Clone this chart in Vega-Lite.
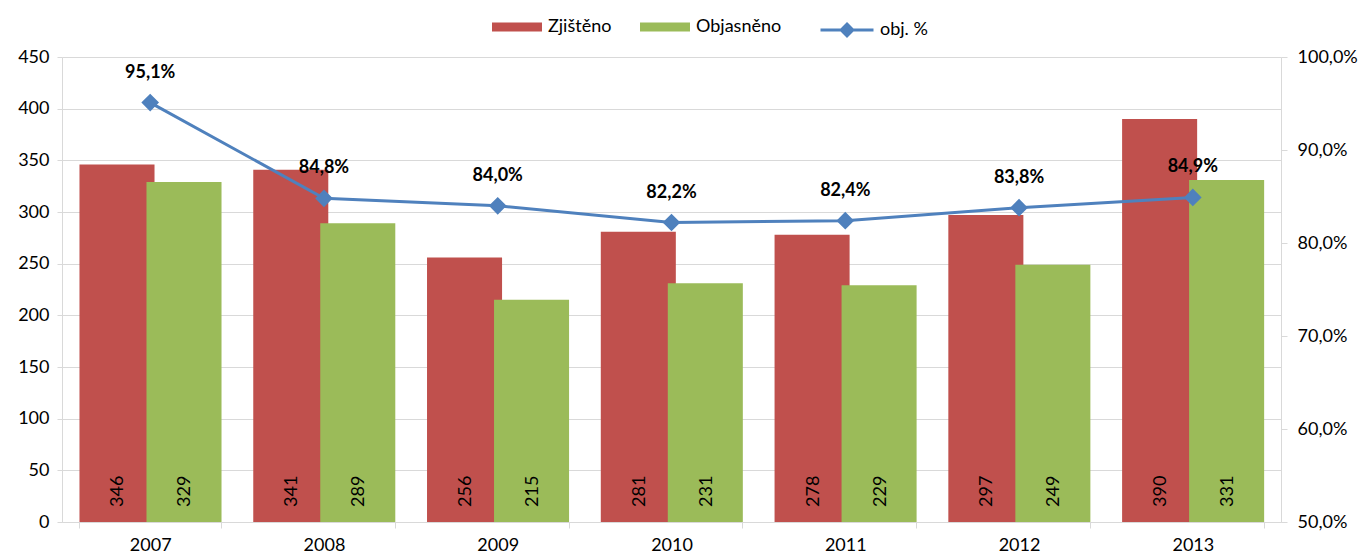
{
  "$schema": "https://vega.github.io/schema/vega-lite/v6.json",
  "width": 1219,
  "height": 465,
  "autosize": "none",
  "padding": {"left": 62, "top": 57, "right": 87, "bottom": 37},
  "background": "white",
  "config": {
    "font": "Lato",
    "view": {"stroke": null},
    "locale": {"number": {"decimal": ",", "thousands": " ", "grouping": [3], "currency": ["", " Kč"]}},
    "legend": {"padding": 0, "labelFont": "Lato", "labelFontSize": 18, "labelColor": "#000"},
    "axis": {"labelFont": "Lato", "labelFontSize": 18, "labelColor": "#000", "domainColor": "#d9d9d9", "tickColor": "#d9d9d9", "gridColor": "#d9d9d9"}
  },
  "datasets": {
    "bars": [
      {"year": "2007", "series": "Zjištěno", "value": 346},
      {"year": "2007", "series": "Objasněno", "value": 329},
      {"year": "2008", "series": "Zjištěno", "value": 341},
      {"year": "2008", "series": "Objasněno", "value": 289},
      {"year": "2009", "series": "Zjištěno", "value": 256},
      {"year": "2009", "series": "Objasněno", "value": 215},
      {"year": "2010", "series": "Zjištěno", "value": 281},
      {"year": "2010", "series": "Objasněno", "value": 231},
      {"year": "2011", "series": "Zjištěno", "value": 278},
      {"year": "2011", "series": "Objasněno", "value": 229},
      {"year": "2012", "series": "Zjištěno", "value": 297},
      {"year": "2012", "series": "Objasněno", "value": 249},
      {"year": "2013", "series": "Zjištěno", "value": 390},
      {"year": "2013", "series": "Objasněno", "value": 331}
    ],
    "pct": [
      {"year": "2007", "pct": 0.951},
      {"year": "2008", "pct": 0.848},
      {"year": "2009", "pct": 0.840},
      {"year": "2010", "pct": 0.822},
      {"year": "2011", "pct": 0.824},
      {"year": "2012", "pct": 0.838},
      {"year": "2013", "pct": 0.849}
    ]
  },
  "encoding": {
    "x": {
      "field": "year", "type": "nominal",
      "scale": {"paddingInner": 0.185, "paddingOuter": 0.1},
      "axis": {"title": null, "labelAngle": 0, "tickBand": "extent", "tickSize": 6, "labelPadding": 8, "domainColor": "#d9d9d9"}
    }
  },
  "layer": [
    {
      "data": {"name": "bars"},
      "layer": [
        {
          "mark": {"type": "bar", "width": {"band": 1.12}},
          "encoding": {
            "xOffset": {"field": "series", "type": "nominal", "sort": ["Zjištěno", "Objasněno"], "scale": {"paddingInner": 0, "paddingOuter": 0, "range": [8.6, 142.6]}},
            "y": {"field": "value", "type": "quantitative",
              "scale": {"domain": [0, 450], "nice": false},
              "axis": {"title": null, "values": [0, 50, 100, 150, 200, 250, 300, 350, 400, 450], "grid": true, "tickSize": 5, "labelPadding": 8}},
            "color": {"field": "series", "type": "nominal", "sort": ["Zjištěno", "Objasněno"],
              "scale": {"domain": ["Zjištěno", "Objasněno"], "range": ["#C0504D", "#9BBB59"]},
              "legend": {"title": null, "orient": "none", "direction": "horizontal", "legendX": 430, "legendY": -55,
                "symbolType": "M-1,-0.18H1V0.18H-1Z", "symbolSize": 2500, "symbolStrokeWidth": 0, "labelOffset": 6, "columnPadding": 28}}
          }
        },
        {
          "mark": {"type": "text", "angle": 270, "align": "left", "baseline": "middle", "dx": 15, "dy": -3, "fontSize": 18, "color": "#000"},
          "encoding": {
            "xOffset": {"field": "series", "type": "nominal", "sort": ["Zjištěno", "Objasněno"]},
            "y": {"datum": 0, "type": "quantitative"},
            "text": {"field": "value", "type": "quantitative"}
          }
        }
      ]
    },
    {
      "data": {"name": "pct"},
      "layer": [
        {
          "mark": {"type": "line", "strokeWidth": 3, "point": {"shape": "diamond", "size": 220, "filled": true, "color": "#4F81BD"}},
          "encoding": {
            "y": {"field": "pct", "type": "quantitative",
              "scale": {"domain": [0.5, 1.0], "nice": false, "zero": false},
              "axis": {"title": null, "orient": "right", "format": ".1%", "values": [0.5, 0.6, 0.7, 0.8, 0.9, 1.0], "grid": false, "tickSize": 6, "labelPadding": 10}},
            "stroke": {"datum": "obj. %", "type": "nominal",
              "scale": {"range": ["#4F81BD"]},
              "legend": {"title": null, "orient": "none", "legendX": 757, "legendY": -55,
                "symbolType": "M-1,0H1M0,-0.22L0.22,0L0,0.22L-0.22,0Z", "symbolSize": 2809, "symbolStrokeWidth": 3, "symbolFillColor": "#4F81BD", "labelOffset": 5}}
          }
        },
        {
          "mark": {"type": "text", "dy": -30, "fontSize": 18, "fontWeight": "bold", "color": "#000"},
          "encoding": {
            "y": {"field": "pct", "type": "quantitative"},
            "text": {"field": "pct", "type": "quantitative", "format": ".1%"}
          }
        }
      ]
    }
  ],
  "resolve": {"scale": {"y": "independent"}}
}
